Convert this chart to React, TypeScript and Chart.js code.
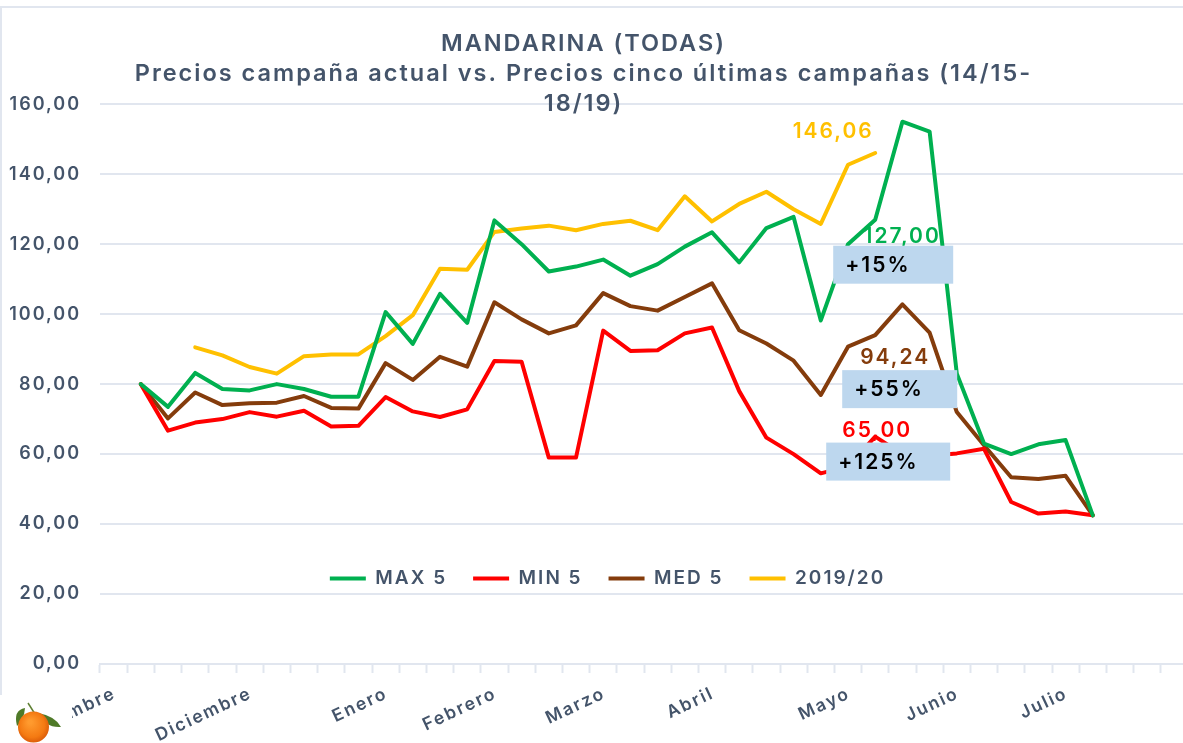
import React, { useEffect, useRef } from "react";
import { Chart, registerables } from "chart.js";

Chart.register(...registerables);

const FONT = "Inter, sans-serif";
const TEXT = "#44546A";
const GRID = "#E1E6EF";
const LS = "2px";

const monthTicks: Record<number, string> = {
  0: "Noviembre", 5: "Diciembre", 10: "Enero", 14: "Febrero", 18: "Marzo",
  22: "Abril", 27: "Mayo", 31: "Junio", 35: "Julio",
};
const categories = Array.from({ length: 40 }, (_, i) => monthTicks[i] ?? "");

const N = null;
const max5 = [N, 80, 73.5, 83.2, 78.6, 78.2, 80, 78.6, 76.4, 76.4, 100.6, 91.5, 105.8, 97.5, 126.8, 120, 112.2, 113.6, 115.6, 111, 114.3, 119.3, 123.4, 114.8, 124.6, 127.8, 98.2, 120, 127, 155, 152.2, 83, 63, 60, 62.8, 64, 42.5];
const min5 = [N, 80, 66.7, 69, 70, 72, 70.7, 72.4, 67.9, 68.1, 76.3, 72.2, 70.6, 72.8, 86.6, 86.4, 59, 59, 95.3, 89.5, 89.7, 94.5, 96.2, 78, 64.7, 60, 54.5, 56.5, 65, 60, 59.5, 60.2, 61.5, 46.3, 43, 43.6, 42.5];
const med5 = [N, 80, 70.2, 77.6, 74, 74.5, 74.7, 76.6, 73.2, 73, 86, 81.2, 87.8, 85, 103.4, 98.5, 94.5, 96.8, 106, 102.3, 101, 104.9, 108.8, 95.4, 91.6, 86.7, 76.9, 90.7, 94, 102.8, 94.7, 72, 62.5, 53.4, 52.9, 53.8, 42.5];
const actual = [N, N, N, 90.5, 88.2, 84.9, 83, 88, 88.5, 88.5, 93.7, 99.7, 113, 112.7, 123.5, 124.5, 125.3, 124, 125.8, 126.7, 124, 133.7, 126.5, 131.5, 135, 130, 125.8, 142.7, 146.06];

const seriesNames = ["MAX 5", "MIN 5", "MED 5", "2019/20"];
const seriesColors = ["#00B050", "#FF0000", "#843C0C", "#FFC000"];
const titleLines = ["MANDARINA (TODAS)", "Precios campaña actual vs. Precios cinco últimas campañas (14/15-", "18/19)"];

const valueLabels = [
  { text: "127,00", ds: 0, i: 28, dx: 27, dy: 17, color: "#00B050" },
  { text: "94,24", ds: 2, i: 28, dx: 20, dy: 23, color: "#843C0C" },
  { text: "65,00", ds: 1, i: 28, dx: 2, dy: -6, color: "#FF0000" },
  { text: "146,06", ds: 3, i: 28, dx: -42, dy: -21, color: "#FFC000" },
];
const pctBoxes = [
  { text: "+15%", ds: 0, i: 28, dx: -42, dy: 26, w: 120, h: 38 },
  { text: "+55%", ds: 2, i: 28, dx: -33, dy: 35, w: 115, h: 38 },
  { text: "+125%", ds: 1, i: 28, dx: -49, dy: 6, w: 124, h: 38 },
];

const spacing = (ctx: any, v: string) => { ctx.letterSpacing = v; };

const overlay = {
  id: "overlay",
  beforeUpdate(c: any) { spacing(c.ctx, LS); },
  beforeLayout(c: any) { spacing(c.ctx, LS); },
  afterLayout(c: any) {
    // the plot runs past the picture's right edge, as in the reference
    const x = c.scales.x;
    x.right = 1188;
    x.width = 1088;
    x.configure();
    c.chartArea.right = 1188;
    c.chartArea.width = 1088;
  },
  beforeDraw(c: any) {
    const { ctx, legend, scales } = c;
    spacing(ctx, LS);
    ctx.fillStyle = "#fff";
    ctx.fillRect(0, 0, 1183, 743);
    ctx.strokeStyle = GRID;
    ctx.lineWidth = 2;
    ctx.beginPath();
    ctx.moveTo(1, 695);
    ctx.lineTo(1, 7);
    ctx.lineTo(1183, 7);
    ctx.stroke();
    scales.x.bottom = 743;
    const h = legend.bottom - legend.top;
    legend.top = 543;
    legend.bottom = 543 + h;
    legend.left = 16;
    legend.right = 1199;
    if (legend.adjustHitBoxes) legend.adjustHitBoxes();
  },
  afterDatasetsDraw(c: any) {
    const { ctx, scales } = c;
    ctx.save();
    ctx.textBaseline = "middle";
    ctx.font = `600 21px ${FONT}`;
    ctx.textAlign = "center";
    spacing(ctx, LS);
    valueLabels.forEach((l) => {
      const v = (c.data.datasets[l.ds].data as number[])[l.i];
      ctx.fillStyle = l.color;
      ctx.fillText(l.text, scales.x.getPixelForValue(l.i) + l.dx, scales.y.getPixelForValue(v) + l.dy);
    });
    pctBoxes.forEach((b) => {
      const v = (c.data.datasets[b.ds].data as number[])[b.i];
      const x = scales.x.getPixelForValue(b.i) + b.dx;
      const y = scales.y.getPixelForValue(v) + b.dy;
      ctx.fillStyle = "#BDD7EE";
      ctx.fillRect(x, y, b.w, b.h);
      ctx.fillStyle = "#000";
      ctx.textAlign = "left";
      ctx.font = `600 21px ${FONT}`;
      ctx.fillText(b.text, x + 12, y + 20);
    });
    ctx.restore();
  },
  afterDraw(c: any) {
    const { ctx } = c;
    ctx.save();
    ctx.fillStyle = "#fff";
    ctx.fillRect(0, 696, 72, 47);
    // tangerine picture
    ctx.fillStyle = "#4F7A28";
    ctx.beginPath();
    ctx.moveTo(38, 713);
    ctx.quadraticCurveTo(55, 716, 61, 727);
    ctx.quadraticCurveTo(45, 728, 38, 713);
    ctx.fill();
    ctx.beginPath();
    ctx.moveTo(25, 708);
    ctx.quadraticCurveTo(13, 710, 17, 726);
    ctx.quadraticCurveTo(24, 720, 25, 708);
    ctx.fill();
    ctx.strokeStyle = "#5E7F33";
    ctx.lineWidth = 1.5;
    ctx.beginPath();
    ctx.moveTo(28, 703);
    ctx.lineTo(35, 714);
    ctx.stroke();
    const g = ctx.createRadialGradient(30, 722, 2, 33, 726, 17);
    g.addColorStop(0, "#FF9A2E");
    g.addColorStop(0.7, "#F47A12");
    g.addColorStop(1, "#DA5A08");
    ctx.fillStyle = g;
    ctx.beginPath();
    ctx.arc(33.5, 727, 15.5, 0, Math.PI * 2);
    ctx.fill();
    ctx.restore();
  },
};

export default function App() {
  const ref = useRef<HTMLCanvasElement>(null);
  useEffect(() => {
    document.body.style.margin = "0";
    const data = [max5, min5, med5, actual];
    const chart = new Chart(ref.current!, {
      type: "line",
      data: {
        labels: categories,
        datasets: data.map((d, k) => ({
          label: seriesNames[k],
          data: d,
          borderColor: seriesColors[k],
          backgroundColor: seriesColors[k],
          borderWidth: 4,
          pointRadius: 0,
          tension: 0,
          borderCapStyle: "round",
          borderJoinStyle: "round",
          spanGaps: false,
        })),
      },
      options: {
        responsive: false,
        animation: false,
        layout: { padding: { left: -26, right: -10, top: 0, bottom: 0 } },
        plugins: {
          title: {
            display: true,
            text: titleLines,
            color: TEXT,
            font: { family: FONT, size: 23.5, weight: 600, lineHeight: 1.28 },
            padding: { top: 29, bottom: -15 },
          },
          legend: {
            position: "bottom",
            labels: {
              color: TEXT,
              font: { family: FONT, size: 19, weight: 600 },
              boxWidth: 36,
              boxHeight: 4,
              padding: 26,
              generateLabels: (c: any) =>
                Chart.defaults.plugins.legend.labels.generateLabels(c).map((l: any) => ({ ...l, lineWidth: 0 })),
            },
          },
          tooltip: { enabled: false },
        },
        scales: {
          x: {
            offset: true,
            grid: { offset: true, drawOnChartArea: false, drawTicks: true, tickLength: 9, tickWidth: 2, tickColor: GRID },
            border: { color: GRID, width: 2 },
            ticks: {
              autoSkip: false,
              minRotation: 25,
              maxRotation: 25,
              padding: 10,
              labelOffset: 1,
              color: TEXT,
              font: { family: FONT, size: 17.5, weight: 600 },
            },
            afterFit(s: any) { s.height = 24; s.paddingLeft = 0; s.paddingRight = 0; },
          },
          y: {
            min: 0,
            max: 160,
            grid: { color: GRID, lineWidth: 2, drawTicks: false },
            border: { display: false },
            ticks: {
              stepSize: 20,
              padding: 19,
              color: TEXT,
              font: { family: FONT, size: 18, weight: 600 },
              callback: (v: any) => Number(v).toFixed(2).replace(".", ","),
            },
            afterFit(s: any) { s.width = 126; s.paddingTop = 0; s.paddingBottom = 0; },
          },
        },
      } as any,
      plugins: [overlay],
    } as any);
    return () => chart.destroy();
  }, []);
  return <canvas ref={ref} width={1183} height={743} style={{ display: "block" }} />;
}
